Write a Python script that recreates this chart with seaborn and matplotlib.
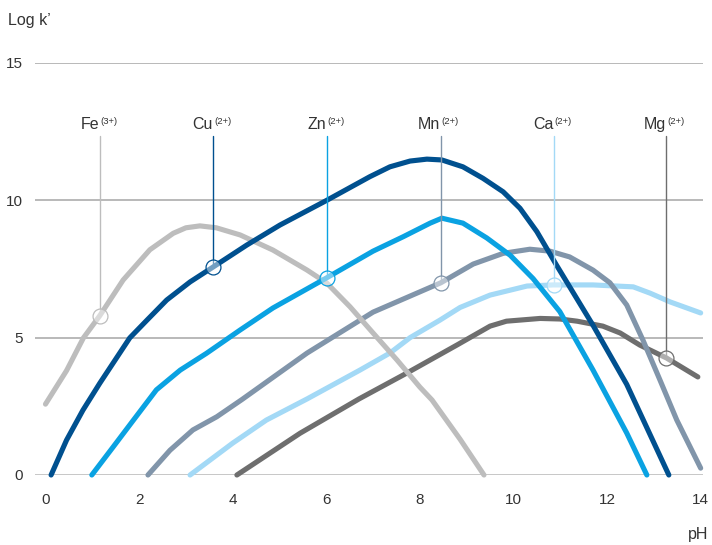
import numpy as np
import pandas as pd
import matplotlib
matplotlib.use("Agg")
import matplotlib.pyplot as plt
import seaborn as sns

# ---- data ----
fe_x = [0.0, 0.45, 0.81, 1.16, 1.66, 2.23, 2.73, 3.0, 3.3, 3.65, 4.16, 4.86, 5.59, 6.01, 6.51, 7.0, 7.51, 8.0, 8.26, 8.86, 9.37]
fe_y = [2.58, 3.8, 4.99, 5.8, 7.1, 8.2, 8.8, 9.0, 9.07, 9.0, 8.74, 8.19, 7.46, 6.99, 6.12, 5.17, 4.19, 3.2, 2.73, 1.3, 0.0]

cu_x = [0.12, 0.45, 0.8, 1.16, 1.8, 2.17, 2.59, 3.09, 3.58, 4.3, 5.01, 6.01, 6.93, 7.36, 7.79, 8.15, 8.47, 8.92, 9.35, 9.78, 10.14, 10.5, 10.92, 11.7, 12.42, 13.32]
cu_y = [0.0, 1.27, 2.36, 3.34, 4.99, 5.64, 6.37, 7.03, 7.57, 8.37, 9.1, 10.0, 10.86, 11.22, 11.43, 11.5, 11.47, 11.22, 10.8, 10.31, 9.71, 8.86, 7.64, 5.45, 3.3, 0.0]

zn_x = [0.99, 1.45, 1.88, 2.37, 2.88, 3.44, 4.16, 4.86, 6.0, 7.0, 7.65, 8.22, 8.47, 8.92, 9.43, 9.93, 10.42, 10.99, 11.7, 12.42, 12.85]
zn_y = [0.0, 1.03, 2.0, 3.1, 3.82, 4.43, 5.28, 6.08, 7.17, 8.15, 8.68, 9.17, 9.35, 9.17, 8.63, 8.0, 7.15, 5.95, 3.82, 1.53, 0.0]

mn_x = [2.19, 2.66, 3.15, 3.66, 4.2, 5.59, 7.0, 8.45, 9.14, 9.78, 10.35, 10.78, 11.2, 11.7, 12.06, 12.42, 12.77, 13.13, 13.49, 14.0]
mn_y = [0.0, 0.9, 1.64, 2.12, 2.75, 4.44, 5.93, 7.0, 7.68, 8.07, 8.22, 8.15, 7.94, 7.46, 7.0, 6.19, 4.9, 3.46, 2.0, 0.25]

ca_x = [3.09, 4.0, 4.72, 5.59, 6.72, 7.36, 7.79, 8.43, 8.86, 9.5, 10.29, 10.85, 11.7, 12.56, 12.92, 13.35, 14.0]
ca_y = [0.0, 1.16, 2.0, 2.77, 3.82, 4.44, 5.0, 5.64, 6.1, 6.55, 6.88, 6.92, 6.92, 6.85, 6.62, 6.3, 5.9]

mg_x = [4.09, 5.44, 6.7, 7.72, 8.79, 9.5, 9.85, 10.57, 10.99, 11.36, 11.91, 12.28, 12.7, 13.27, 13.94]
mg_y = [0.0, 1.52, 2.77, 3.71, 4.73, 5.42, 5.6, 5.7, 5.68, 5.6, 5.42, 5.17, 4.73, 4.26, 3.57]

elements = ["Fe", "Cu", "Zn", "Mn", "Ca", "Mg"]
charges = ["(3+)", "(2+)", "(2+)", "(2+)", "(2+)", "(2+)"]
label_x = [1.165, 3.59, 6.01, 8.45, 10.86, 13.27]
marker_y = [5.8, 7.57, 7.17, 7.0, 6.92, 4.26]
label_top = 12.34

x_ticks = [0, 2, 4, 6, 8, 10, 12, 14]
y_ticks = [0, 5, 10, 15]

# ---- styling ----
colors = {"Fe": "#bdbdbd", "Cu": "#00508f", "Zn": "#0aa2e2",
          "Mn": "#8195aa", "Ca": "#a3d9f6", "Mg": "#6e6e6e"}
zorders = {"Ca": 2.0, "Mg": 2.1, "Mn": 2.2, "Fe": 2.3, "Zn": 2.4, "Cu": 2.5}
series = {"Fe": (fe_x, fe_y), "Cu": (cu_x, cu_y), "Zn": (zn_x, zn_y),
          "Mn": (mn_x, mn_y), "Ca": (ca_x, ca_y), "Mg": (mg_x, mg_y)}

sns.set_theme(style="white")
plt.rcParams["font.family"] = ["Liberation Sans", "DejaVu Sans"]
txt = "#333333"

fig = plt.figure(figsize=(7.12, 5.45), dpi=100)
ax = fig.add_axes([35 / 712, 1 - 475 / 545, 668 / 712, (475 - 63) / 545])
ax.set_xlim(-0.224, 14.05)
ax.set_ylim(0, 15)

for yv in y_ticks:
    ax.axhline(yv, color="#b8b8b8" if yv == 0 else "#a6a6a6", lw=1.1, zorder=1)

for name in ["Ca", "Mg", "Mn", "Fe", "Zn", "Cu"]:
    xs, ys = series[name]
    df = pd.DataFrame({"pH": xs, "logk": ys})
    sns.lineplot(data=df, x="pH", y="logk", ax=ax, color=colors[name], lw=3.7,
                 sort=False, estimator=None, solid_capstyle="round",
                 solid_joinstyle="round", clip_on=False, zorder=zorders[name])

for el, ch, lx, my in zip(elements, charges, label_x, marker_y):
    c = colors[el]
    ax.plot([lx, lx], [my, label_top], color=c, lw=1.0, zorder=3)
    ax.scatter([lx], [my], s=115, facecolors=(1, 1, 1, 0.45), edgecolors=c,
               linewidths=0.9, zorder=5, clip_on=False)
    ax.text(lx - 0.01, 12.6, el, ha="right", va="baseline", fontsize=11.5, color=txt)
    ax.text(lx + 0.015, 13.05, ch, ha="left", va="top", fontsize=6.8, color=txt)

ax.set_xticks(x_ticks)
ax.set_xticklabels([str(v) for v in x_ticks])
ax.set_yticks(y_ticks)
ax.set_yticklabels([str(v) for v in y_ticks])
ax.tick_params(axis="x", length=0, pad=13, labelsize=11, labelcolor=txt)
ax.tick_params(axis="y", length=0, pad=9, labelsize=11, labelcolor=txt)
for lab in ax.get_yticklabels():
    lab.set_horizontalalignment("right")
ax.set_xlabel("")
ax.set_ylabel("")
ax.grid(False)
sns.despine(ax=ax, left=True, bottom=True)

fig.text(8 / 712, 1 - 20 / 545, "Log k\u2019", ha="left", va="center", fontsize=11.5, color=txt)
fig.text(708 / 712, 1 - 534 / 545, "pH", ha="right", va="center", fontsize=11.5, color=txt)

fig.savefig("out.png", dpi=100)
